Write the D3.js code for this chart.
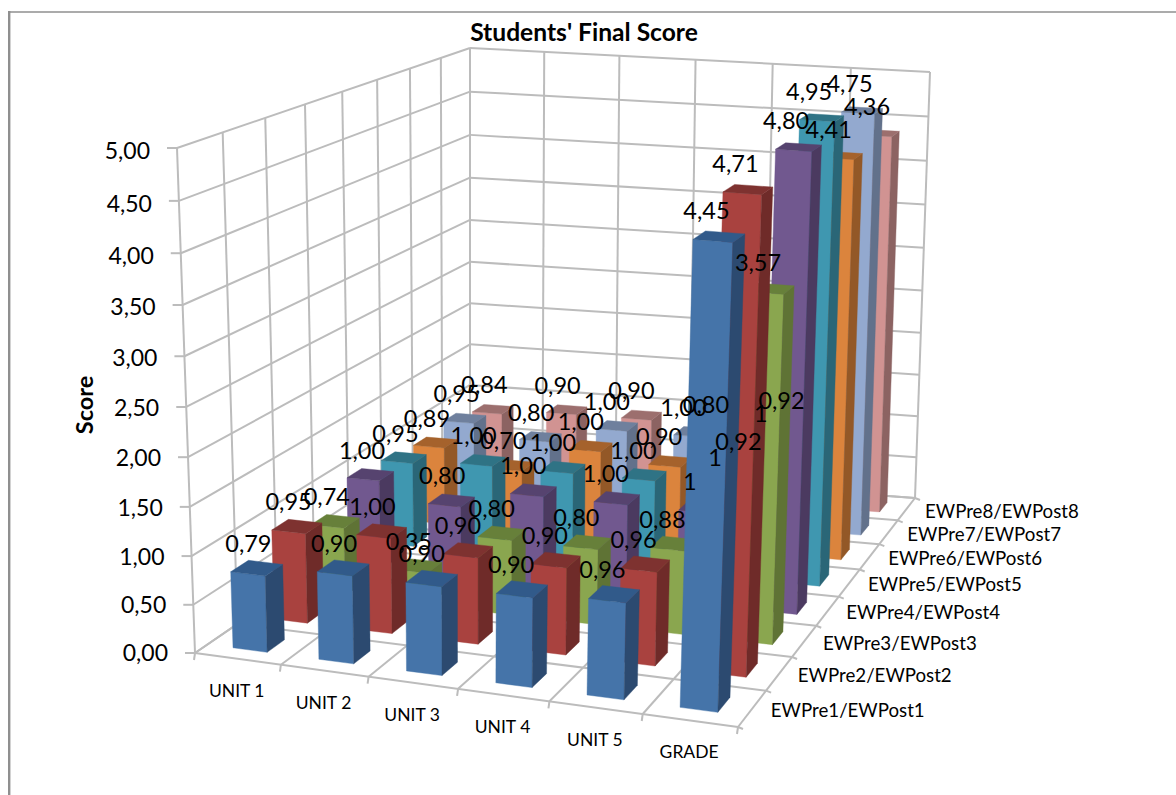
<!DOCTYPE html>
<html><head><meta charset="utf-8">
<script src="https://cdn.jsdelivr.net/npm/d3@7"></script>
<style>html,body{margin:0;padding:0;background:#fff}svg{display:block}text{font-family:Lato,"Open Sans",sans-serif;fill:#000}</style>
</head><body><svg id="c" width="1176" height="795"></svg>
<script>
const title = "Students' Final Score";
const yTitle = "Score";
const categories = ["UNIT 1","UNIT 2","UNIT 3","UNIT 4","UNIT 5","GRADE"];
const seriesNames = ["EWPre1/EWPost1","EWPre2/EWPost2","EWPre3/EWPost3","EWPre4/EWPost4","EWPre5/EWPost5","EWPre6/EWPost6","EWPre7/EWPost7","EWPre8/EWPost8"];
const s1 = [0.79,0.90,0.90,0.90,0.96,4.45];
const s2 = [0.95,1.00,0.90,0.90,0.96,4.71];
const s3 = [0.74,0.35,0.80,0.80,0.88,3.57];
const s4 = [1.00,0.80,1.00,1.00,1,4.80];
const s5 = [0.95,1.00,1.00,1.00,1,4.95];
const s6 = [0.89,0.70,1.00,0.90,0.92,4.41];
const s7 = [0.95,0.80,1.00,1.00,1,4.75];
const s8 = [0.84,0.90,0.90,0.80,0.92,4.36];
const seriesValues = [s1,s2,s3,s4,s5,s6,s7,s8];
const yTicks = [0,0.5,1,1.5,2,2.5,3,3.5,4,4.5,5];
// column UNIT 5 carries a general-format label where the value is a whole number
const generalFormat = [false,false,false,false,true,false];
const faceFront = ["#4574a9","#a9423f","#8aa64f","#71588f","#3f97b0","#db843d","#93a9cf","#d19392"];
const faceSide  = ["#2c4a70","#6f2b29","#5f7335","#4b3a60","#2a6677","#935827","#62718b","#8c6362"];
const faceTop   = ["#315a8a","#7e3230","#67803a","#56436f","#2f7385","#a5622c","#6f809d","#9c6f6e"];

const svg = d3.select("#c");
svg.append("line").attr("x1",8).attr("y1",12).attr("x2",1176).attr("y2",12).attr("stroke","#8f8f8f").attr("stroke-width",1.6);
svg.append("line").attr("x1",9.2).attr("y1",11).attr("x2",9.2).attr("y2",795).attr("stroke","#8f8f8f").attr("stroke-width",2.4);

// perspective frame of the plot box
function quad(A,B,C,D){ // unit square -> quad (0,0)A (1,0)B (1,1)C (0,1)D
  const dx1=B[0]-C[0],dy1=B[1]-C[1],dx2=D[0]-C[0],dy2=D[1]-C[1],sx=A[0]-B[0]+C[0]-D[0],sy=A[1]-B[1]+C[1]-D[1];
  const det=dx1*dy2-dx2*dy1,g=(sx*dy2-dx2*sy)/det,k=(dx1*sy-sx*dy1)/det;
  const a=B[0]-A[0]+g*B[0],b=D[0]-A[0]+k*D[0],d=B[1]-A[1]+g*B[1],e=D[1]-A[1]+k*D[1];
  return (u,v)=>{const w=g*u+k*v+1;return [(a*u+b*v+A[0])/w,(d*u+e*v+A[1])/w];};
}
const floor = quad([195,653],[738,727],[915,498],[470,465]);
const ceil  = quad([177,148],[757,189],[930,72],[470,48]);
const y = d3.scaleLinear().domain([0,5]).range([0,1]);
const persp = 0.95, floorWarp = 1.092, ceilWarp = 1.03;
const warp = (u,a)=>u*a/(1+(a-1)*u);
function P(u,v,h){
  const t=y(h), s=t*persp/(1+(persp-1)*t), f=floor(warp(u,floorWarp),v), c=ceil(warp(u,ceilWarp),v);
  return [f[0]+(c[0]-f[0])*s, f[1]+(c[1]-f[1])*s];
}
const xBand = d3.scaleBand().domain(categories).range([0,1]).paddingInner(0.6).paddingOuter(0.3);
const zBand = d3.scaleBand().domain(seriesNames).range([0,1]).paddingInner(0.58).paddingOuter(0.29);
const xEdges = d3.range(categories.length+1).map(i=>i/categories.length);
const zEdges = d3.range(seriesNames.length+1).map(i=>i/seriesNames.length);

const grid = svg.append("g").attr("fill","none").attr("stroke","#bcbcbc").attr("stroke-width",2);
const seg = (a,b)=>grid.append("line").attr("x1",a[0]).attr("y1",a[1]).attr("x2",b[0]).attr("y2",b[1]);
yTicks.forEach(t=>{
  seg(P(0,0,t),P(0,1,t)); seg(P(0,1,t),P(1,1,t));
  seg(P(0,0,t),[P(0,0,t)[0]-10,P(0,0,t)[1]]);
});
zEdges.forEach(v=>{ seg(P(0,v,0),P(0,v,5)); seg(P(0,v,0),P(1,v,0));
  const p=P(1,v,0); seg(p,[p[0]+5,p[1]+2]); });
xEdges.forEach(u=>{ seg(P(u,1,0),P(u,1,5)); seg(P(u,0,0),P(u,1,0));
  const p=P(u,0,0); seg(p,[p[0]-1,p[1]+7]); });

// bars painted from the back row forward, left to right
const bars = svg.append("g");
const poly=(pts,fill)=>bars.append("polygon").attr("points",pts.map(p=>p.join(",")).join(" ")).attr("fill",fill).attr("stroke",fill).attr("stroke-width",0.4);
const labels=[];
d3.range(seriesNames.length).reverse().forEach(si=>{
  const v0=zBand(seriesNames[si]), v1=v0+zBand.bandwidth();
  categories.forEach((cat,ci)=>{
    const u0=xBand(cat), u1=u0+xBand.bandwidth(), h=seriesValues[si][ci];
    poly([P(u0,v0,0),P(u1,v0,0),P(u1,v0,h),P(u0,v0,h)],faceFront[si]);
    poly([P(u1,v0,0),P(u1,v1,0),P(u1,v1,h),P(u1,v0,h)],faceSide[si]);
    poly([P(u0,v0,h),P(u1,v0,h),P(u1,v1,h),P(u0,v1,h)],faceTop[si]);
    const txt = (generalFormat[ci] && Number.isInteger(h)) ? String(h) : h.toFixed(2).replace(".",",");
    const um=(u0+u1)/2, c=P(um,(v0+v1)/2,h);
    labels.push({x:c[0]-8-5*um,y:c[1]-15.5-0.5*h,txt});
  });
});
const lab = svg.append("g").attr("font-size",23.5).attr("text-anchor","middle");
labels.forEach(l=>lab.append("text").attr("x",l.x).attr("y",l.y).text(l.txt));

// axis text
const yl = svg.append("g").attr("font-size",23).attr("text-anchor","end");
yTicks.forEach(t=>{const p=P(0,0,t); yl.append("text").attr("x",p[0]-27).attr("y",p[1]+8+0.6*t).text(t.toFixed(2).replace(".",","));});
const cl = svg.append("g").attr("font-size",17.5).attr("text-anchor","middle");
categories.forEach(c=>{const p=P(xBand(c)+xBand.bandwidth()/2,0,0); cl.append("text").attr("x",p[0]-1).attr("y",p[1]+38).text(c);});
const sl = svg.append("g").attr("font-size",18.7).attr("text-anchor","start");
seriesNames.forEach(n=>{const p=P(1,zBand(n)+zBand.bandwidth()/2,0); sl.append("text").attr("x",p[0]+18.5).attr("y",p[1]+8.5).text(n);});
svg.append("text").attr("x",584).attr("y",41).attr("text-anchor","middle").attr("font-size",24.6).attr("font-weight",700).text(title);
svg.append("text").attr("transform","translate(93,405) rotate(-90)").attr("text-anchor","middle").attr("font-size",23.5).attr("font-weight",700).text(yTitle);
</script></body></html>
